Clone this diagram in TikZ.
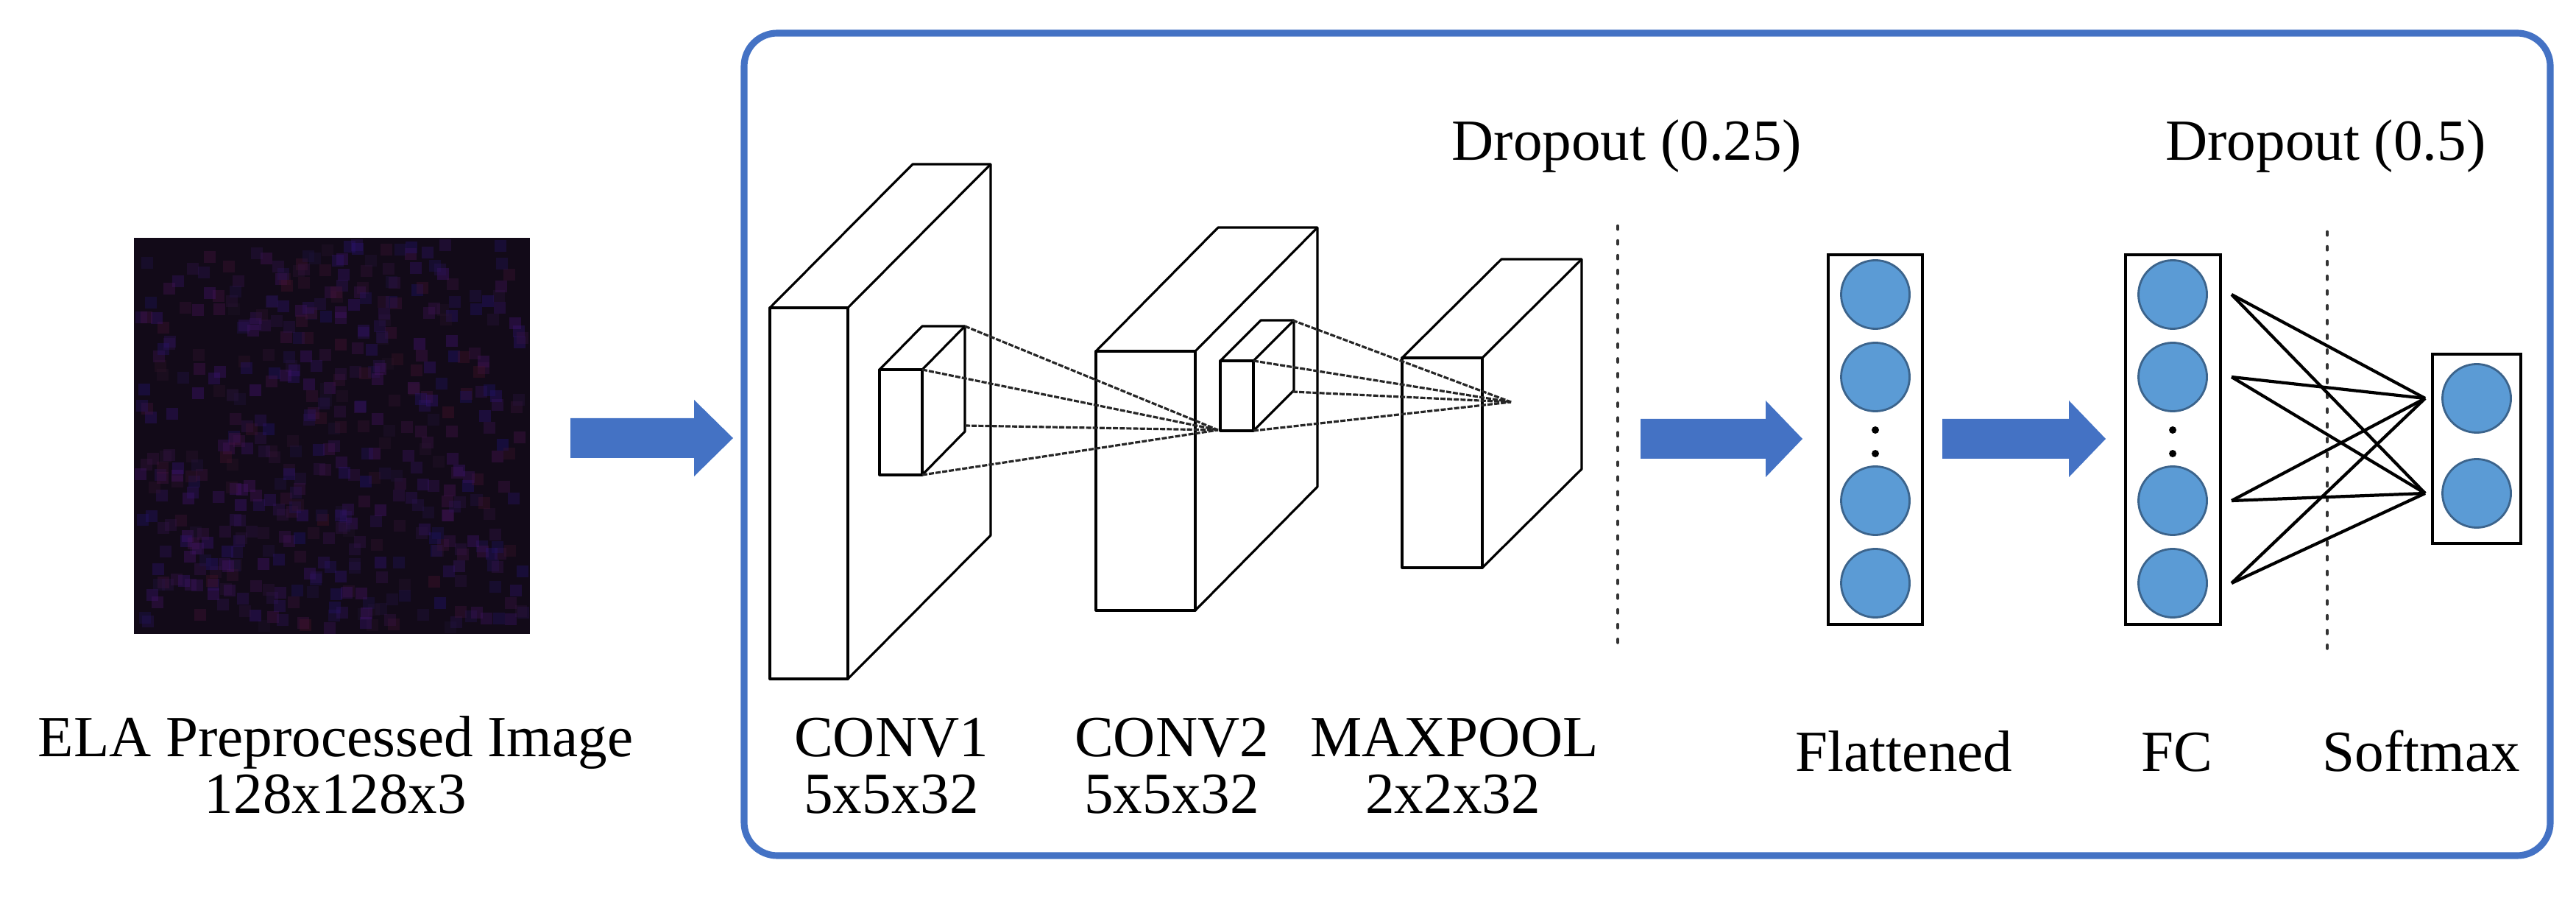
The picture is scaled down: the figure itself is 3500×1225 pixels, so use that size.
\documentclass[tikz,border=0pt]{standalone}
\usepackage{fontspec}
\setmainfont{Liberation Serif}
\definecolor{ablue}{RGB}{68,114,196}
\definecolor{nfill}{RGB}{91,155,213}
\definecolor{nedge}{RGB}{60,100,140}
\definecolor{imgbg}{RGB}{18,10,24}
\begin{document}
\begin{tikzpicture}[x=0.01cm,y=-0.01cm,
  lbl/.style={font=\fontsize{22.5}{26}\selectfont, inner sep=0pt, anchor=base},
  cub/.style={draw=black, fill=white, line width=0.9pt, line join=round},
  ray/.style={black!85, dash pattern=on 2pt off 0.6pt, line width=0.9pt},
  drop/.style={black!80, line width=1.3pt, dash pattern=on 1.2pt off 4.5pt, line cap=round},
  neuron/.style={circle, draw=nedge, fill=nfill, line width=0.8pt, minimum size=0.93cm, inner sep=0pt},
  layer/.style={draw=black, line width=0.9pt, fill=white},
  fat/.style={fill=ablue},
  conn/.style={black, line width=1.2pt}]
\useasboundingbox (0,0) rectangle (3500,1225);
\fill[white] (0,0) rectangle (3500,1225);
\newcommand\mycub[6]{%
  \filldraw[cub] (#1,#2) -- ++(#5,-#6) -- ++(#3,0) -- ++(0,#4) -- ++(-#5,#6) -- ++(0,-#4) -- cycle;
  \draw[cub] (#1+#3,#2) -- ++(#5,-#6);
  \filldraw[cub] (#1,#2) rectangle ++(#3,#4);}
\newcommand\fatarrow[4]{%
  \fill[fat] (#1,#4-27) -- (#3,#4-27) -- (#3,#4-52) -- (#2,#4) -- (#3,#4+52) -- (#3,#4+27) -- (#1,#4+27) -- cycle;}
% input image
\pgfmathsetseed{7}
\fill[imgbg] (182,323) rectangle (720,861);
\foreach \i in {1,...,500}{
  \pgfmathsetmacro\px{182+rnd*522}\pgfmathsetmacro\py{323+rnd*522}
  \pgfmathsetmacro\cr{int(30+rnd*50)}\pgfmathsetmacro\cb{int(40+rnd*90)}
  \definecolor{pc}{RGB}{\cr,20,\cb}
  \fill[pc, opacity=0.35] (\px,\py) rectangle ++(16,16);}
\node[lbl] (t1) at (456,1027) {ELA Preprocessed Image};
\node[lbl] (t2) at (456,1104) {128x128x3};
\fatarrow{775}{996}{943}{595}
% big box
\draw[draw=ablue, line width=2.6pt, rounded corners=0.45cm] (1011,45) rectangle (3465,1162);
% cuboids
\mycub{1046}{418}{106}{504}{194}{195}
\mycub{1195}{502}{58}{143}{58}{59}
\mycub{1489}{477}{135}{352}{166}{168}
\mycub{1658}{490}{45}{95}{55}{55}
\mycub{1905}{486}{109}{285}{135}{134}
\coordinate (p1) at (1655,584);
\coordinate (p2) at (2053,546);
\foreach \c in {(1311,443),(1253,502),(1311,578),(1253,645)} \draw[ray] \c -- (p1);
\foreach \c in {(1756,435),(1703,490),(1756,532),(1703,585)} \draw[ray] \c -- (p2);
\node[lbl] at (1211,1027) {CONV1};
\node[lbl] at (1211,1104) {5x5x32};
\node[lbl] at (1592,1027) {CONV2};
\node[lbl] at (1592,1104) {5x5x32};
\node[lbl] at (1976,1027) {MAXPOOL};
\node[lbl] at (1974,1104) {2x2x32};
% dropout
\draw[drop] (2198,307) -- (2198,884);
\node[lbl] at (2210,218) {Dropout (0.25)};
\fatarrow{2229}{2449}{2399}{596}
% flattened
\draw[layer] (2484,346) rectangle (2612,848);
\foreach \n/\y in {a/400,b/512,c/680,d/792} \node[neuron] (f\n) at (2548,\y) {};
\fill (2548,584) circle (5); \fill (2548,616) circle (5);
\node[lbl] at (2587,1047) {Flattened};
\fatarrow{2639}{2861}{2811}{596}
% FC
\draw[layer] (2888,346) rectangle (3017,848);
\foreach \n/\y in {a/400,b/512,c/680,d/792} \node[neuron] (g\n) at (2952,\y) {};
\fill (2952,584) circle (5); \fill (2952,616) circle (5);
\node[lbl] at (2958,1047) {FC};
% softmax
\draw[drop] (3162,315) -- (3162,887);
\node[lbl] at (3160,218) {Dropout (0.5)};
\draw[layer] (3305,481) rectangle (3425,738);
\node[neuron] (sa) at (3365,541) {};
\node[neuron] (sb) at (3365,670) {};
\coordinate (ia) at (3295,541); \coordinate (ib) at (3295,670);
\foreach \n/\y in {a/400,b/512,c/680,d/792}{
  \coordinate (o\n) at (3032,\y);
  \draw[conn] (o\n) -- (ia); \draw[conn] (o\n) -- (ib);}
\node[lbl] at (3290,1047) {Softmax};
\end{tikzpicture}
\end{document}
